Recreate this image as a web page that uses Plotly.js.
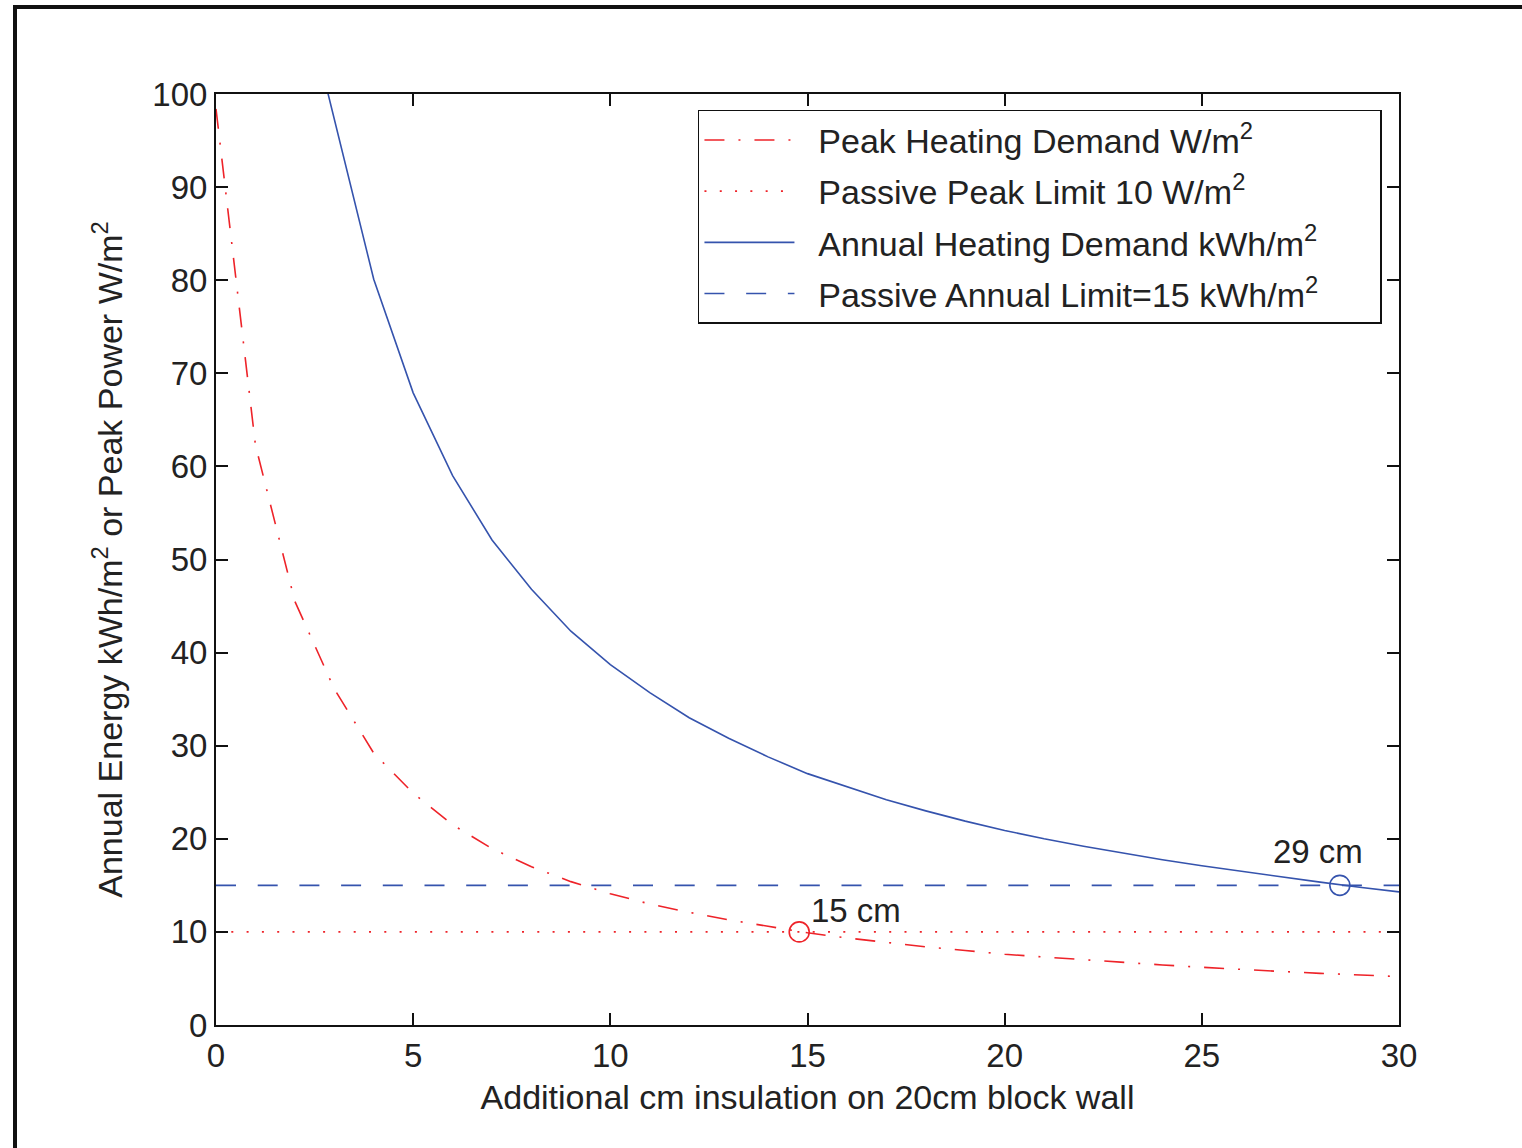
<!DOCTYPE html>
<html><head><meta charset="utf-8">
<script src="https://cdn.plot.ly/plotly-3.0.1.min.js"></script>
<style>
html,body{margin:0;padding:0;background:#fff;}
#wrap{position:relative;width:1522px;height:1148px;overflow:hidden;}
#chart{position:absolute;left:0;top:0;width:1522px;height:1148px;}
#frame{position:absolute;left:13px;top:5px;width:1600px;height:1300px;border-top:4px solid #111;border-left:4px solid #111;pointer-events:none;}
</style></head><body>
<div id="wrap"><div id="chart"></div><div id="frame"></div></div>
<script>
// Additional insulation (cm) at which the curves were evaluated
const peakX = [0, 1, 2, 3, 4, 5, 6, 7, 8, 9, 10, 11, 12, 13, 14, 15, 16, 17, 18, 19, 20, 21, 22, 23, 24, 25, 26, 27, 28, 29, 30];
// Peak heating demand (W/m2)
const peakY = [98.4, 62.3, 45.5, 36.1, 29.2, 24.9, 21.5, 18.95, 17.0, 15.4, 14.1, 13.0, 12.1, 11.3, 10.6, 9.9, 9.35, 8.85, 8.4, 8.0, 7.6, 7.3, 7.0, 6.7, 6.45, 6.2, 5.95, 5.75, 5.55, 5.35, 5.2];
const annualX = [2, 3, 4, 5, 6, 7, 8, 9, 10, 11, 12, 13, 14, 15, 16, 17, 18, 19, 20, 21, 22, 23, 24, 25, 26, 27, 28, 29, 30];
// Annual heating demand (kWh/m2)
const annualY = [114.5, 97.4, 80.1, 67.9, 59.0, 52.1, 46.8, 42.3, 38.7, 35.7, 33.0, 30.8, 28.8, 27.0, 25.6, 24.2, 23.0, 21.9, 20.9, 20.0, 19.2, 18.45, 17.75, 17.1, 16.5, 15.95, 15.35, 14.8, 14.3];
// Passive house limits
const limitX = [0, 30];
const peakLimitY = [10, 10];
const annualLimitY = [15, 15];
// Intersection markers and their labels
const peakHitX = [14.79], peakHitY = [10];
const annualHitX = [28.5], annualHitY = [15];
const hitLabels = ['15 cm', '29 cm'];
const labelX = [15.05, 26.75];
const labelY = [12.25, 18.6];
const xTicks = [0, 5, 10, 15, 20, 25, 30];
const yTicks = [0, 10, 20, 30, 40, 50, 60, 70, 80, 90, 100];
const seriesNames = [
  'Peak Heating Demand W/m<sup>2</sup>',
  'Passive Peak Limit 10 W/m<sup>2</sup>',
  'Annual Heating Demand kWh/m<sup>2</sup>',
  'Passive Annual Limit=15 kWh/m<sup>2</sup>'
];

const RED = '#ee2329';
const BLUE = '#3553ad';
const FONT = 'Liberation Sans, Arial, Helvetica, sans-serif';
const NB = '\u00A0';
const lead = NB + NB;
const tail = NB.repeat(6);

const traces = [
  {x: peakX, y: peakY, mode: 'lines', name: lead + seriesNames[0], legendgroup: 'a',
   line: {color: RED, width: 1.6, dash: '20px,14px,2px,14px'}},
  {x: limitX, y: peakLimitY, mode: 'lines', name: lead + seriesNames[1], legendgroup: 'b',
   line: {color: RED, width: 1.6, dash: '2px,13.3px'}},
  {x: annualX, y: annualY, mode: 'lines', name: lead + seriesNames[2], legendgroup: 'c',
   line: {color: BLUE, width: 1.6}},
  {x: limitX, y: annualLimitY, mode: 'lines', name: lead + seriesNames[3] + tail, legendgroup: 'd',
   line: {color: BLUE, width: 1.6, dash: '20px,21.7px'}},
  {x: peakHitX, y: peakHitY, mode: 'markers', showlegend: false, legendgroup: 'a',
   marker: {symbol: 'circle-open', size: 20, color: RED, line: {width: 1.6, color: RED}}},
  {x: annualHitX, y: annualHitY, mode: 'markers', showlegend: false, legendgroup: 'c',
   marker: {symbol: 'circle-open', size: 20, color: BLUE, line: {width: 1.6, color: BLUE}}}
];

const axisCommon = {
  showgrid: false, zeroline: false, showline: true, linecolor: '#111', linewidth: 2,
  mirror: 'ticks', ticks: 'inside', ticklen: 12, tickwidth: 2, tickcolor: '#111',
  tickfont: {size: 33, color: '#222', family: FONT}
};

const layout = {
  width: 1522, height: 1148,
  margin: {l: 216, r: 123, t: 94, b: 123, pad: 0},
  paper_bgcolor: '#fff', plot_bgcolor: '#fff',
  font: {family: FONT, color: '#222'},
  showlegend: true,
  xaxis: Object.assign({}, axisCommon, {
    range: [0, 30], tickmode: 'array', tickvals: xTicks,
    title: {text: 'Additional cm insulation on 20cm block wall', font: {size: 34, color: '#222', family: FONT}, standoff: 13}
  }),
  yaxis: Object.assign({}, axisCommon, {
    range: [0, 100], tickmode: 'array', tickvals: yTicks,
    title: {text: 'Annual Energy kWh/m<sup>2</sup> or Peak Power W/m<sup>2</sup>', font: {size: 34, color: '#222', family: FONT}, standoff: 19}
  }),
  legend: {
    x: 0.4074, y: 0.983, xanchor: 'left', yanchor: 'top',
    bgcolor: '#fff', bordercolor: '#111', borderwidth: 1.5,
    font: {size: 34, color: '#222', family: FONT},
    itemwidth: 90, tracegroupgap: 4, traceorder: 'grouped'
  },
  annotations: hitLabels.map((t, i) => ({
    x: labelX[i], y: labelY[i], xref: 'x', yref: 'y', text: t, showarrow: false,
    xanchor: 'left', yanchor: 'middle', font: {size: 33, color: '#222', family: FONT}
  }))
};

Plotly.newPlot('chart', traces, layout, {displayModeBar: false, staticPlot: true});
</script>
</body></html>
